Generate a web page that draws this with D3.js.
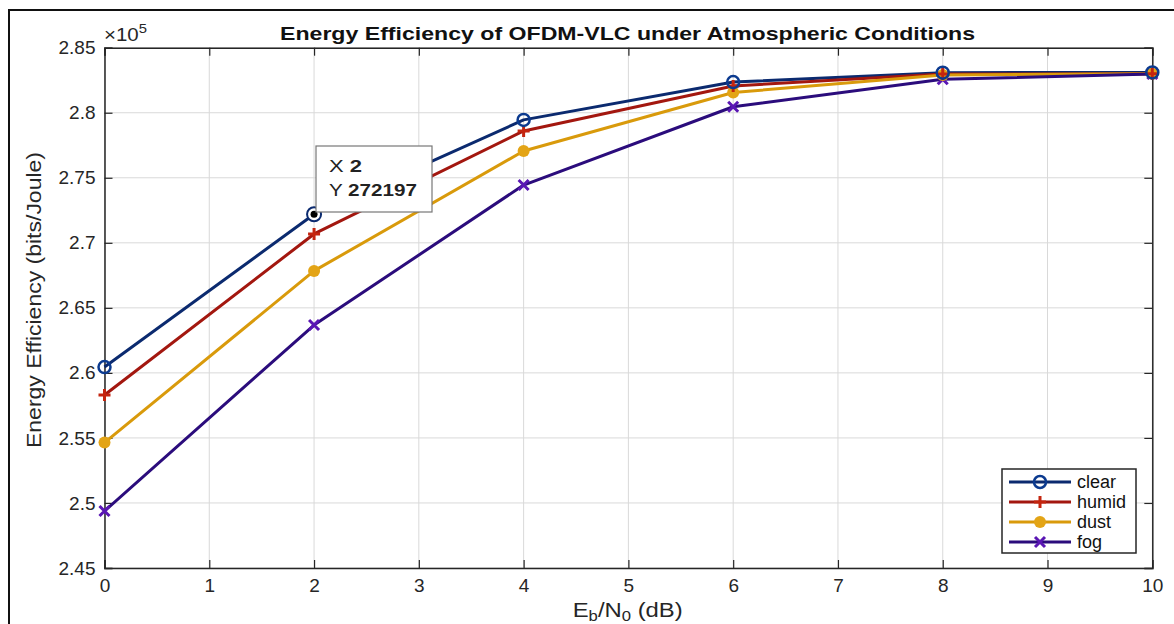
<!DOCTYPE html>
<html><head><meta charset="utf-8">
<script src="https://cdn.jsdelivr.net/npm/d3@7"></script>
<style>body{margin:0;background:#fff;} svg{display:block;font-family:Arial,"Liberation Sans",sans-serif;}</style>
</head><body>
<svg id="c" width="1174" height="624"></svg>
<script>
const xValues = [0, 2, 4, 6, 8, 10];
const seriesNames = ["clear", "humid", "dust", "fog"];
const clearVals = [260450, 272197, 279450, 282360, 283080, 283100];
const humidVals = [258300, 270680, 278600, 282060, 282980, 283000];
const dustVals  = [254640, 267840, 277060, 281560, 282900, 283000];
const fogVals   = [249380, 263680, 274440, 280460, 282570, 282980];
const xTicks = [0,1,2,3,4,5,6,7,8,9,10];
const yTicks = [2.45,2.5,2.55,2.6,2.65,2.7,2.75,2.8,2.85];
const yTickLabels = ["2.45","2.5","2.55","2.6","2.65","2.7","2.75","2.8","2.85"];
const tipX = 2, tipY = 272197;

const colors = {clear:"#0b2a6f", humid:"#a3170f", dust:"#d99a0b", fog:"#2b0c7c"};
const markerColors = {clear:"#0b3a8f", humid:"#c4250f", dust:"#e3a416", fog:"#5a16b4"};
const data = [clearVals, humidVals, dustVals, fogVals];

const svg = d3.select("#c");
const L=104.5, R=1152.3, T=47.7, B=568;
const x = d3.scaleLinear().domain([0,10]).range([L,R]);
const y = d3.scaleLinear().domain([2.45e5,2.85e5]).range([B,T]);

// outer border
svg.append("rect").attr("x",9).attr("y",10).attr("width",1200).attr("height",700)
  .attr("fill","none").attr("stroke","#111").attr("stroke-width",2);

// grid
const g = svg.append("g");
g.selectAll(".gx").data(xTicks).join("line").attr("x1",d=>x(d)).attr("x2",d=>x(d))
  .attr("y1",T).attr("y2",B).attr("stroke","#d9d9d9").attr("stroke-width",1);
g.selectAll(".gy").data(yTicks).join("line").attr("y1",d=>y(d*1e5)).attr("y2",d=>y(d*1e5))
  .attr("x1",L).attr("x2",R).attr("stroke","#d9d9d9").attr("stroke-width",1);

// axes with inward ticks
const xAxisB = d3.axisBottom(x).tickValues(xTicks).tickSize(-8).tickPadding(11).tickFormat(d3.format("d"));
const xAxisT = d3.axisTop(x).tickValues(xTicks).tickSize(-8).tickFormat("");
const yAxisL = d3.axisLeft(y).tickValues(yTicks.map(v=>v*1e5)).tickSize(-8).tickPadding(9)
  .tickFormat((d,i)=>yTickLabels[i]);
const yAxisR = d3.axisRight(y).tickValues(yTicks.map(v=>v*1e5)).tickSize(-8).tickFormat("");
function styleAxis(sel){
  sel.select(".domain").attr("stroke","#262626").attr("stroke-width",1.5);
  sel.selectAll(".tick line").attr("stroke","#262626").attr("stroke-width",1.2);
  sel.selectAll(".tick text").attr("fill","#262626").attr("font-size",19).attr("font-family","Arial,'Liberation Sans',sans-serif");
}
svg.append("g").attr("transform",`translate(0,${B})`).call(xAxisB).call(styleAxis);
svg.append("g").attr("transform",`translate(0,${T})`).call(xAxisT).call(styleAxis);
svg.append("g").attr("transform",`translate(${L},0)`).call(yAxisL).call(styleAxis);
svg.append("g").attr("transform",`translate(${R},0)`).call(yAxisR).call(styleAxis);

// lines
const line = d3.line().x((d,i)=>x(xValues[i])).y(d=>y(d));
seriesNames.forEach((n,k)=>{
  svg.append("path").datum(data[k]).attr("d",line).attr("fill","none")
    .attr("stroke",colors[n]).attr("stroke-width",3).attr("stroke-linejoin","round");
});

function drawMarker(sel, n, cx, cy){
  const gm = sel.append("g").attr("transform",`translate(${cx},${cy})`);
  if(n==="clear"){
    gm.append("circle").attr("r",6).attr("fill","none").attr("stroke",markerColors[n]).attr("stroke-width",2.5);
  } else if(n==="humid"){
    gm.append("path").attr("d","M-6,0H6M0,-6V6").attr("stroke",markerColors[n]).attr("stroke-width",3);
  } else if(n==="dust"){
    gm.append("circle").attr("r",6).attr("fill",markerColors[n]);
  } else {
    gm.append("path").attr("d","M-5,-5L5,5M-5,5L5,-5").attr("stroke",markerColors[n]).attr("stroke-width",3);
  }
}
[3,2,1,0].forEach(k=>{
  const n = seriesNames[k];
  data[k].forEach((v,i)=>drawMarker(svg,n,x(xValues[i]),y(v)));
});

// datatip
svg.append("circle").attr("cx",x(tipX)).attr("cy",y(tipY)).attr("r",7).attr("fill","#fff")
  .attr("stroke","#0b2a6f").attr("stroke-width",2);
svg.append("circle").attr("cx",x(tipX)).attr("cy",y(tipY)).attr("r",3.5).attr("fill","#000");
const tipG = svg.append("g");
tipG.append("rect").attr("x",316).attr("y",146).attr("width",116).attr("height",66)
  .attr("fill","#fff").attr("stroke","#777").attr("stroke-width",1.2);
const t1 = tipG.append("text").attr("x",329).attr("y",172).attr("font-size",17).attr("fill","#222")
  .attr("textLength",33).attr("lengthAdjust","spacingAndGlyphs");
t1.append("tspan").text("X ");
t1.append("tspan").attr("font-weight","bold").text(String(tipX));
const t2 = tipG.append("text").attr("x",329).attr("y",196).attr("font-size",17).attr("fill","#222")
  .attr("textLength",88).attr("lengthAdjust","spacingAndGlyphs");
t2.append("tspan").text("Y ");
t2.append("tspan").attr("font-weight","bold").text(String(tipY));

// title
svg.append("text").attr("x",627.5).attr("y",40).attr("text-anchor","middle").attr("font-size",18.5)
  .attr("font-weight","bold").attr("fill","#111")
  .attr("textLength",695).attr("lengthAdjust","spacingAndGlyphs")
  .text("Energy Efficiency of OFDM-VLC under Atmospheric Conditions");
// exponent
const ex = svg.append("text").attr("x",104).attr("y",41).attr("font-size",18).attr("fill","#262626")
  .attr("textLength",43).attr("lengthAdjust","spacingAndGlyphs");
ex.append("tspan").text("×10");
ex.append("tspan").attr("dy",-8).attr("font-size",13).text("5");

// axis labels
svg.append("text").attr("transform",`translate(41,300) rotate(-90)`).attr("text-anchor","middle")
  .attr("font-size",20).attr("fill","#262626")
  .attr("textLength",296).attr("lengthAdjust","spacingAndGlyphs")
  .text("Energy Efficiency (bits/Joule)");
const xl = svg.append("text").attr("x",627.7).attr("y",617).attr("text-anchor","middle").attr("font-size",20).attr("fill","#262626")
  .attr("textLength",110).attr("lengthAdjust","spacingAndGlyphs");
xl.append("tspan").text("E");
xl.append("tspan").attr("dy",4).attr("font-size",14).text("b");
xl.append("tspan").attr("dy",-4).text("/N");
xl.append("tspan").attr("dy",4).attr("font-size",14).text("0");
xl.append("tspan").attr("dy",-4).text(" (dB)");

// legend
const lg = svg.append("g");
lg.append("rect").attr("x",1002).attr("y",469).attr("width",134).attr("height",84)
  .attr("fill","#fff").attr("stroke","#262626").attr("stroke-width",1.5);
seriesNames.forEach((n,k)=>{
  const yy = 482 + k*20;
  lg.append("line").attr("x1",1009).attr("x2",1071).attr("y1",yy).attr("y2",yy)
    .attr("stroke",colors[n]).attr("stroke-width",3);
  drawMarker(lg,n,1040,yy);
  lg.append("text").attr("x",1077).attr("y",yy+6).attr("font-size",18).attr("fill","#111").text(n);
});
</script>
</body></html>
